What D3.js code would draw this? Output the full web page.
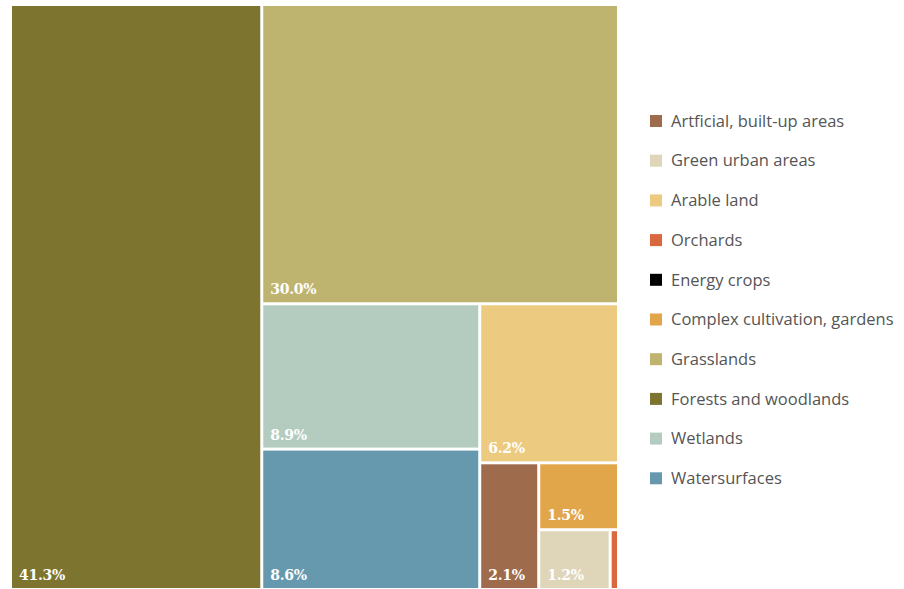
<!DOCTYPE html>
<html>
<head>
<meta charset="utf-8">
<script src="https://cdn.jsdelivr.net/npm/d3@7"></script>
<style>
  body { margin: 0; background: #fff; }
  svg { display: block; }
</style>
</head>
<body>
<svg id="chart" width="904" height="589"></svg>
<script>
// Land cover shares (%)
const categories = [
  'Artficial, built-up areas',
  'Green urban areas',
  'Arable land',
  'Orchards',
  'Energy crops',
  'Complex cultivation, gardens',
  'Grasslands',
  'Forests and woodlands',
  'Wetlands',
  'Watersurfaces'
];
const shares = [2.1, 1.2, 6.2, 0.14, 0.0, 1.5, 30.0, 41.3, 8.9, 8.6];
const colors = ['#9e6b4c', '#dfd6b9', '#eccb81', '#d9683f', '#000000',
                '#e2a64a', '#bfb46f', '#7d742f', '#b4ccbf', '#6699ae'];

const svg = d3.select('#chart');
const box = { x: 10, y: 4, w: 609, h: 586 };

const root = d3.hierarchy({ children: categories.map((c, i) => ({ name: c, value: shares[i], color: colors[i] })) })
  .sum(d => d.value || 0)
  .sort((a, b) => b.value - a.value);

d3.treemap()
  .tile(d3.treemapBinary)
  .size([box.w, box.h])
  .padding(1)(root);

const g = svg.append('g').attr('transform', `translate(${box.x},${box.y})`);

const cell = g.selectAll('g.cell')
  .data(root.leaves().filter(d => d.value > 0))
  .join('g')
  .attr('class', 'cell')
  .attr('transform', d => `translate(${d.x0},${d.y0})`);

cell.append('rect')
  .attr('x', 1).attr('y', 1)
  .attr('width', d => Math.max(0, d.x1 - d.x0 - 2))
  .attr('height', d => Math.max(0, d.y1 - d.y0 - 2))
  .attr('fill', d => d.data.color);

cell.filter(d => d.value >= 1)
  .append('text')
  .attr('x', 8)
  .attr('y', d => d.y1 - d.y0 - 9)
  .attr('fill', '#fff')
  .attr('font-family', '"DejaVu Serif", serif')
  .attr('font-weight', 'bold')
  .attr('font-size', '14px')
  .attr('letter-spacing', '-0.3px')
  .text(d => d.value.toFixed(1) + '%');

// Legend
const legend = svg.append('g').attr('transform', 'translate(650,121)');
const item = legend.selectAll('g')
  .data(categories)
  .join('g')
  .attr('transform', (d, i) => `translate(0,${i * 39.7})`);
item.append('rect')
  .attr('x', 0).attr('y', -6)
  .attr('width', 12).attr('height', 12)
  .attr('fill', (d, i) => colors[i]);
item.append('text')
  .attr('x', 21)
  .attr('y', 0)
  .attr('dy', '0.35em')
  .attr('fill', '#555')
  .attr('font-family', '"Open Sans", sans-serif')
  .attr('font-size', '16.5px')
  .text(d => d);
</script>
</body>
</html>
